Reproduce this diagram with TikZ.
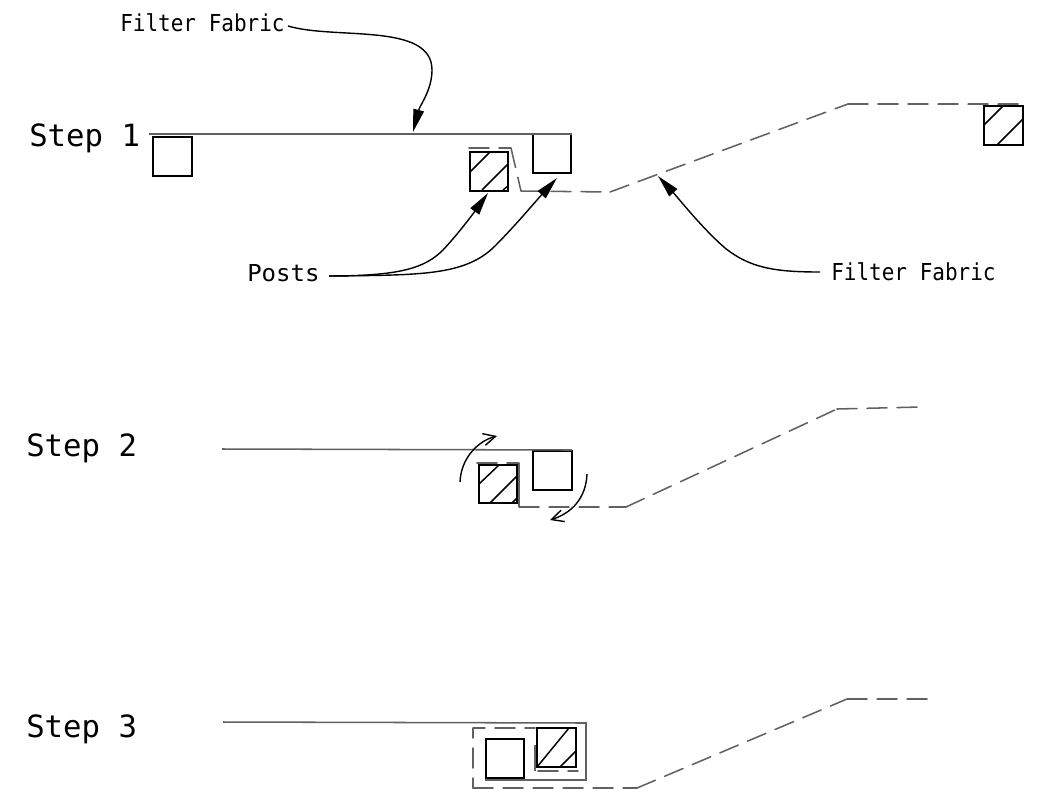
\documentclass[tikz,border=0pt]{standalone}
\usepackage{fontspec}
\setmainfont{DejaVu Sans Mono}
\newfontfamily\narrowcad[FakeStretch=0.9]{DejaVu Sans Mono}
\newfontfamily\postcad[FakeStretch=1.03]{DejaVu Sans Mono}
\usetikzlibrary{arrows.meta}
\tikzset{
  x=0.75pt,y=-0.75pt,
  post/.style={draw=black,line width=1.35pt,minimum size=28.8pt,inner sep=0pt,outer sep=0pt},
  hatchline/.style={black,line width=1.1pt},
  fabric/.style={draw=black!62,line width=1.15pt},
  fabricdash/.style={fabric,line cap=round,dash pattern=on 15pt off 7.5pt},
  halfdash/.style={fabric,line cap=round,dash pattern=on 15pt off 7.5pt,dash phase=7.5pt},
  leader/.style={black,line width=1.05pt,-{Triangle[length=17pt,width=8pt]}},
  turn/.style={black,line width=1.05pt,-{Straight Barb[length=9pt,width=9pt]}},
  steptext/.style={anchor=base west,inner sep=0pt,font=\fontsize{23}{26}\selectfont},
  labeltext/.style={anchor=base west,inner sep=0pt,font=\narrowcad\fontsize{17.5}{20}\selectfont},
  poststext/.style={anchor=base west,inner sep=0pt,font=\postcad\fontsize{17.5}{20}\selectfont},
}
\begin{document}
\begin{tikzpicture}
\useasboundingbox (0,0) rectangle (1049,793);
% Labels
\node[steptext] (s1) at (29,146) {Step 1};
\node[steptext] (s2) at (26,456) {Step 2};
\node[steptext] (s3) at (26,737) {Step 3};
\node[labeltext] (ff1) at (120,31) {Filter Fabric};
\node[labeltext] (ff2) at (831,280) {Filter Fabric};
\node[poststext] (pl) at (247,281) {Posts};
% Step 1
\node[post] (a1) at (172.5,156.5) {};
\node[post] (a2) at (489,171.5) {};
\node[post] (a3) at (552,153.5) {};
\node[post] (a4) at (1003.5,125.5) {};
\draw[hatchline] (470,172)--(490,152) (482,190)--(508,164) (503,190)--(508,186);
\draw[hatchline] (984,125)--(1003,106) (997,145)--(1023,119);
\draw[fabric] (149,134)--(572,134);
\draw[fabricdash] (469,148)--(511,148) (511,148)--(521,191) (521,191)--(610,192) (610,192)--(848,104) (848,104)--(1023,104);
\coordinate (t1) at (413,132);
\coordinate (t2) at (488,193);
\coordinate (t3) at (557,178);
\coordinate (t4) at (658,176);
\coordinate (ps) at (329,276);
\coordinate (fs) at (820,272);
\draw[leader] (288,26) .. controls (335,40) and (432,22) .. (432,70) .. controls (432,90) and (420,105) .. (t1);
\draw[leader] (ps) .. controls (400,276) and (425,268) .. (443,250) .. controls (457,235) and (470,218) .. (t2);
\draw[leader] (ps) .. controls (420,275) and (465,276) .. (495,246) .. controls (515,226) and (535,202) .. (t3);
\draw[leader] (fs) .. controls (775,272) and (750,268) .. (725,248) .. controls (702,228) and (680,200) .. (t4);
% Step 2
\node[post] (b1) at (498,484) {};
\node[post] (b2) at (552.5,470.5) {};
\draw[hatchline] (479,484)--(499,465) (490,503)--(517,476) (512,503)--(517,498);
\draw[fabric] (222,449)--(572,450);
\draw[fabric] (519,463)--(519,507);
\draw[fabricdash] (477,463)--(519,463) (519,507)--(626,507) (626,507)--(837,409) (837,409)--(921,407);
\coordinate (r1a) at (460,482);
\coordinate (r1b) at (497,436);
\coordinate (r2a) at (587,474);
\coordinate (r2b) at (550,520);
\draw[turn] (r1a) .. controls (461,458) and (478,441) .. (r1b);
\draw[turn] (r2a) .. controls (586,498) and (572,513) .. (r2b);
% Step 3
\node[post] (c1) at (505,758.5) {};
\node[post] (c2) at (556.5,747.5) {};
\draw[hatchline] (537,767)--(569,728) (560,767)--(576,751);
\draw[fabric] (223,722)--(586,723)--(586,780)--(485,780);
\draw[fabric] (535,745)--(535,771);
\draw[halfdash] (578,771)--(535,771) (535,728)--(473,728) (473,728)--(473,788);
\draw[fabricdash] (473,788)--(637,788) (637,788)--(847,699) (847,699)--(928,699);
\end{tikzpicture}
\end{document}
